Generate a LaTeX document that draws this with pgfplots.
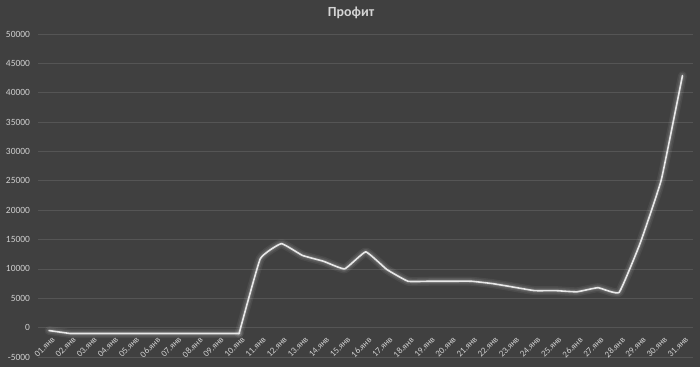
\documentclass[border=0pt]{standalone}
\usepackage{fontspec}
\setmainfont{Carlito}
\usepackage{pgfplots}
\pgfplotsset{compat=1.18}
\definecolor{bg}{HTML}{404040}
\definecolor{gridc}{HTML}{555555}
\definecolor{tickc}{HTML}{D0D0D0}
\definecolor{linec}{HTML}{E8E8E8}
\begin{document}
\begin{tikzpicture}
\path[use as bounding box, fill=bg] (0,0) rectangle (700bp,367bp);
\node[font=\fontsize{14}{16}\selectfont\bfseries, text=tickc!90!white] at (351bp,354bp) {Профит};
\begin{axis}[
  at={(38.5bp,10bp)}, anchor=south west,
  scale only axis, width=654.5bp, height=323bp,
  xmin=0.5, xmax=31.5, ymin=-5000, ymax=50000,
  scaled y ticks=false,
  axis x line*=middle, axis y line*=left,
  axis line style={draw=none},
  major tick length=0pt,
  xtick={1,...,31},
  xticklabels={01.янв,02.янв,03.янв,04.янв,05.янв,06.янв,07.янв,08.янв,09.янв,10.янв,11.янв,12.янв,13.янв,14.янв,15.янв,16.янв,17.янв,18.янв,19.янв,20.янв,21.янв,22.янв,23.янв,24.янв,25.янв,26.янв,27.янв,28.янв,29.янв,30.янв,31.янв},
  ytick={-5000,0,5000,10000,15000,20000,25000,30000,35000,40000,45000,50000},
  yticklabels={-5000,0,5000,10000,15000,20000,25000,30000,35000,40000,45000,50000},
  ymajorgrids, grid style={gridc, line width=0.8bp},
  xticklabel style={font=\fontsize{9}{10}\selectfont, text=tickc, rotate=45, anchor=north east, yshift=-7bp, xshift=-4bp, inner sep=0.5bp},
  yticklabel style={font=\fontsize{9.5}{10}\selectfont, text=tickc, anchor=east, xshift=-5bp},
  clip=false,
]
\pgfplotstableread{
x y
1 -500
2 -1000
3 -1000
4 -1000
5 -1000
6 -1000
7 -1000
8 -1000
9 -1000
10 -1000
}\dataA
\pgfplotstableread{
x y
10 -1000
11 11700
12 14300
13 12300
14 11300
15 10000
16 12900
17 9900
18 7900
19 7900
20 7900
21 7900
22 7500
23 6900
24 6300
25 6300
26 6100
27 6800
28 6000
29 14400
30 25200
31 42900
}\dataB
\pgfplotsset{glowA/.style={white, opacity=0.06, line width=9bp, line join=round, line cap=round},
  glowB/.style={white, opacity=0.08, line width=6bp, line join=round, line cap=round},
  glowC/.style={white, opacity=0.10, line width=3.5bp, line join=round, line cap=round},
  mainl/.style={linec, line width=1.6bp, line join=round, line cap=round}}
\addplot[glowA] table {\dataA};
\addplot[glowA, smooth, tension=0.2] table {\dataB};
\addplot[glowB] table {\dataA};
\addplot[glowB, smooth, tension=0.2] table {\dataB};
\addplot[glowC] table {\dataA};
\addplot[glowC, smooth, tension=0.2] table {\dataB};
\addplot[mainl] table {\dataA};
\addplot[mainl, smooth, tension=0.2] table {\dataB};
\end{axis}
\end{tikzpicture}
\end{document}
